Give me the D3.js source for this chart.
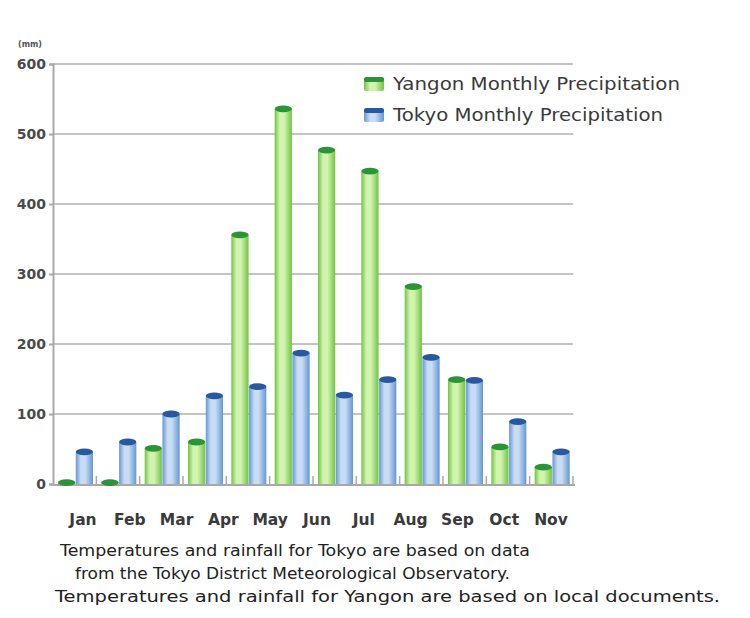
<!DOCTYPE html>
<html>
<head>
<meta charset="utf-8">
<script src="https://cdn.jsdelivr.net/npm/d3@7"></script>
<style>
  html, body { margin: 0; padding: 0; background: #fff; }
  svg { display: block; }
</style>
</head>
<body>
<svg id="chart" width="750" height="618"></svg>
<script>
// ---- data ----
const categories = ["M1","M2","M3","M4","M5","M6","M7","M8","M9","M10","M11","M12"];
const tickLabels = ["Jan","Feb","Mar","Apr","May","Jun","Jul","Aug","Sep","Oct","Nov"];
const yangon = [2, 2, 51, 60, 356, 536, 477, 447, 282, 149, 53, 24];
const tokyo  = [46, 60, 100, 126, 139, 187, 127, 149, 181, 148, 89, 46];
const yTicks = [0, 100, 200, 300, 400, 500, 600];
const seriesNames = ["Yangon Monthly Precipitation", "Tokyo Monthly Precipitation"];
const notes = [
  "Temperatures and rainfall for Tokyo are based on data",
  "from the Tokyo District Meteorological Observatory.",
  "Temperatures and rainfall for Yangon are based on local documents."
];

// ---- layout ----
const svg = d3.select("#chart");
const mLeft = 53, mRight = 573, mTop = 64, mBottom = 484;
const FONT = "DejaVu Sans, Verdana, sans-serif";

const x = d3.scaleBand().domain(categories).range([mLeft, mRight]).paddingInner(0).paddingOuter(0);
const xs = d3.scaleBand().domain([0, 1]).range([5, 40]).paddingInner(0.03);
const y = d3.scaleLinear().domain([0, 600]).range([mBottom, mTop]);
const xl = d3.scalePoint().domain(tickLabels).range([83, 551]);

const defs = svg.append("defs");
function grad(id, edge, mid) {
  const g = defs.append("linearGradient").attr("id", id).attr("x1", "0").attr("x2", "1").attr("y1", "0").attr("y2", "0");
  g.append("stop").attr("offset", "0%").attr("stop-color", edge);
  g.append("stop").attr("offset", "30%").attr("stop-color", mid);
  g.append("stop").attr("offset", "55%").attr("stop-color", mid);
  g.append("stop").attr("offset", "100%").attr("stop-color", edge);
}
grad("gGreen", "#72c443", "#d2f4b0");
grad("gBlue", "#6497d4", "#c8dcf4");
const fills = ["url(#gGreen)", "url(#gBlue)"];
const caps = ["#2a9436", "#28589f"];

// gridlines
svg.append("g").selectAll("line").data(yTicks.filter(d => d > 0)).join("line")
  .attr("x1", mLeft).attr("x2", mRight)
  .attr("y1", d => y(d)).attr("y2", d => y(d))
  .attr("stroke", "#c4c4c4").attr("stroke-width", 2);

// y axis
const yAxis = d3.axisLeft(y).tickValues(yTicks).tickSize(4).tickPadding(3);
const gy = svg.append("g").attr("transform", `translate(${mLeft},0)`).call(yAxis);
gy.select(".domain").attr("stroke", "#a8a8a8").attr("stroke-width", 2);
gy.selectAll(".tick line").attr("stroke", "#a8a8a8").attr("stroke-width", 2);
gy.selectAll(".tick text").attr("font-family", FONT)
  .attr("font-size", 14).attr("font-weight", "bold").attr("fill", "#4a4a4a");

svg.append("text").attr("x", 30).attr("y", 47).attr("text-anchor", "middle")
  .attr("font-family", FONT).attr("font-size", 8)
  .attr("font-weight", "bold").attr("fill", "#555").text("(mm)");

// bottom axis line and small category ticks
svg.append("line").attr("x1", mLeft).attr("x2", mRight + 2).attr("y1", mBottom + 1).attr("y2", mBottom + 1)
  .attr("stroke", "#a8a8a8").attr("stroke-width", 2);
svg.append("g").selectAll("line").data(categories.slice(1).concat(["end"])).join("line")
  .attr("x1", d => d === "end" ? mRight : x(d)).attr("x2", d => d === "end" ? mRight : x(d))
  .attr("y1", mBottom - 8).attr("y2", mBottom + 1)
  .attr("stroke", "#aaa").attr("stroke-width", 1.5);

// bars
const series = [yangon, tokyo];
series.forEach((vals, si) => {
  const g = svg.append("g");
  const bw = xs.bandwidth();
  g.selectAll("rect").data(vals).join("rect")
    .attr("x", (d, i) => x(categories[i]) + xs(si))
    .attr("y", d => y(d))
    .attr("width", bw)
    .attr("height", d => mBottom - y(d))
    .attr("fill", fills[si]);
  g.selectAll("ellipse").data(vals).join("ellipse")
    .attr("cx", (d, i) => x(categories[i]) + xs(si) + bw / 2)
    .attr("cy", d => y(d))
    .attr("rx", bw / 2)
    .attr("ry", 3.4)
    .attr("fill", caps[si]);
});

// x labels
svg.append("g").selectAll("text").data(tickLabels).join("text")
  .attr("x", d => xl(d)).attr("y", 525).attr("text-anchor", "middle")
  .attr("font-family", FONT).attr("font-size", 15.5)
  .attr("font-weight", "bold").attr("fill", "#3a3a3a").text(d => d);

// legend
const lg = svg.append("g");
const legendW = [287, 270];
seriesNames.forEach((name, i) => {
  const ly = 84 + i * 31;
  lg.append("rect").attr("x", 364).attr("y", ly - 6).attr("width", 20).attr("height", 13)
    .attr("rx", 2).attr("fill", fills[i]);
  lg.append("rect").attr("x", 364).attr("y", ly - 7).attr("width", 20).attr("height", 5)
    .attr("rx", 2).attr("fill", caps[i]);
  lg.append("text").attr("x", 393).attr("y", ly + 6)
    .attr("font-family", FONT).attr("font-size", 17)
    .attr("textLength", legendW[i]).attr("lengthAdjust", "spacingAndGlyphs")
    .attr("fill", "#3a3a3a").text(name);
});

// footnote
const nx = [60, 75, 55], ny = [556, 579, 602], nw = [470, 435, 665];
svg.append("g").selectAll("text").data(notes).join("text")
  .attr("x", (d, i) => nx[i]).attr("y", (d, i) => ny[i])
  .attr("font-family", FONT).attr("font-size", 16)
  .attr("textLength", (d, i) => nw[i]).attr("lengthAdjust", "spacingAndGlyphs")
  .attr("fill", "#222").text(d => d);
</script>
</body>
</html>
